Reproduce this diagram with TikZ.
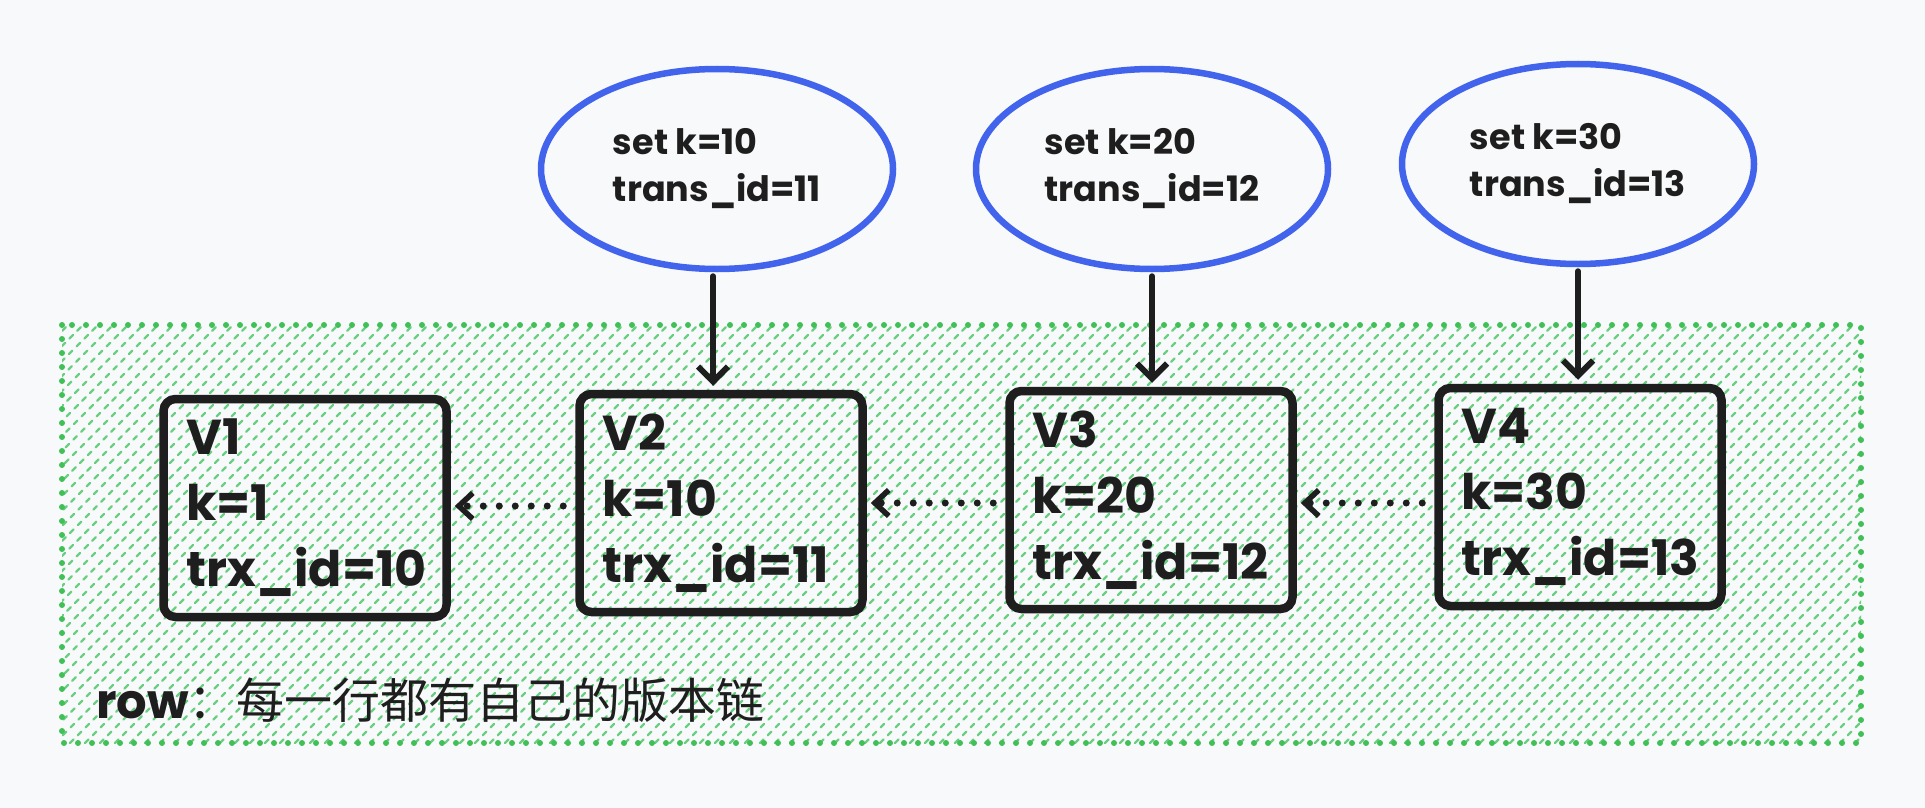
\documentclass[tikz,border=0pt]{standalone}
\usepackage{fontspec}
\setmainfont{Poppins}
\newfontfamily\cjk{Noto Sans CJK SC}
\usetikzlibrary{arrows.meta,shapes.geometric}
\definecolor{bgc}{HTML}{F8F9FB}
\definecolor{gborder}{HTML}{40C057}
\definecolor{ghatch}{HTML}{6ACF80}
\definecolor{eblue}{HTML}{4263EB}
\definecolor{ink}{HTML}{1E1E1E}
\tikzset{
  verbox/.style={draw=ink, line width=8.5pt, rounded corners=12pt, minimum width=283pt, minimum height=218pt, inner sep=0pt, text width=237pt, align=left, font=\bfseries\fontsize{49}{66}\selectfont, text=ink},
  txn/.style={ellipse, draw=eblue, line width=6.5pt, minimum width=352pt, minimum height=200pt, inner sep=0pt, align=left, font=\bfseries\fontsize{35}{47}\selectfont, text=ink},
  setarrow/.style={draw=ink, line width=6pt, line cap=round, -{Straight Barb[length=15pt,width=30pt,line width=6pt]}, shorten >=4pt},
  chainarrow/.style={draw=ink, line width=7pt, line cap=round, dash pattern=on 0pt off 16pt, -{Straight Barb[length=14pt,width=26pt,line width=5.5pt]}, shorten <=12pt, shorten >=4pt},
  hatch/.style={draw=ghatch, line width=2.2pt, line cap=round, dash pattern=on 5pt off 6pt},
}
\begin{document}
\begin{tikzpicture}[x=1pt,y=-1pt]
\useasboundingbox (0,0) rectangle (1925,808);
\fill[bgc] (0,0) rectangle (1925,808);
% row region with hatching
\begin{scope}
\clip (62,325) rectangle (1861,743);
\foreach \a in {-440,-425,...,1880} {
  \draw[hatch] (\a,743) -- (\a+418,325);
}
\end{scope}
\draw[gborder, line width=6pt, line cap=round, dash pattern=on 0pt off 14pt] (62,325) rectangle (1861,743);
% transactions
\node[txn] (e1) at (717,169) {set k=10\\trans\_id=11};
\node[txn] (e2) at (1152,169) {set k=20\\trans\_id=12};
\node[txn] (e3) at (1578,164) {set k=30\\trans\_id=13};
% versions
\node[verbox] (v1) at (305,508) {V1\\k=1\\trx\_id=10};
\node[verbox] (v2) at (721,503) {V2\\k=10\\trx\_id=11};
\node[verbox] (v3) at (1151,500) {V3\\k=20\\trx\_id=12};
\node[verbox] (v4) at (1580,497) {V4\\k=30\\trx\_id=13};
% arrows
\draw[setarrow] ([xshift=-4pt,yshift=-4pt]e1.south) -- ([xshift=-4pt]e1.south |- v2.north);
\draw[setarrow] ([yshift=-4pt]e2.south) -- (e2.south |- v3.north);
\draw[setarrow] ([yshift=-4pt]e3.south) -- (e3.south |- v4.north);
\draw[chainarrow] ([yshift=-3pt]v2.west) -- ([yshift=-3pt]v2.west -| v1.east);
\draw[chainarrow] ([yshift=-3pt]v3.west) -- ([yshift=-3pt]v3.west -| v2.east);
\draw[chainarrow] ([yshift=-6pt]v4.west) -- ([yshift=-6pt]v4.west -| v3.east);
% label
\node[anchor=base west, inner sep=0pt, text=ink] (lbl) at (96,718) {\bfseries\fontsize{48}{56}\selectfont row{\cjk\mdseries\fontsize{48}{56}\selectfont ：每一行都有自己的版本链}};
\end{tikzpicture}
\end{document}
